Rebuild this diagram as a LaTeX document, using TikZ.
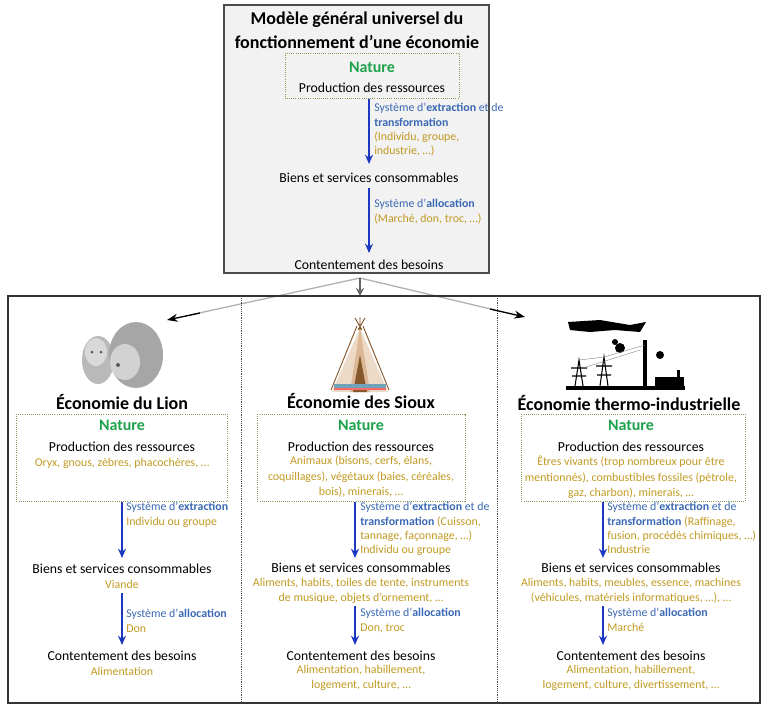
\documentclass[tikz,border=0pt]{standalone}
\usepackage{fontspec}
\setmainfont{Carlito}
\usetikzlibrary{arrows.meta}
\definecolor{bl}{HTML}{3A68B4}
\definecolor{yl}{HTML}{C19A22}
\definecolor{gr}{HTML}{1DA24C}
\definecolor{ab}{HTML}{1C38C0}
\definecolor{dgr}{HTML}{8A9A5B}
\begin{document}
\begin{tikzpicture}[x=0.75pt,y=-0.75pt,
  tx/.style={font=\fontsize{10.3}{12}\selectfont,inner sep=0},
  ttl/.style={font=\fontsize{13.5}{18}\selectfont\bfseries,inner sep=0,align=center},
  nat/.style={font=\fontsize{12}{13}\selectfont\bfseries,text=gr,inner sep=0},
  yt/.style={font=\fontsize{8.9}{11.6}\selectfont,text=yl,inner sep=0,align=center},
  lb/.style={font=\fontsize{8.9}{10.8}\selectfont,text=bl,inner sep=0,align=left,anchor=north west},
  nbox/.style={draw=dgr,densely dotted,line width=0.6pt},
  flow/.style={draw=ab,line width=1.2pt,-{Stealth[length=7pt,width=6pt]}}]
\useasboundingbox (0,0) rectangle (768,708);
% top box
\draw[fill=gray!10,draw=black!70,line width=0.8pt] (224,5) rectangle (489,273);
\node[ttl] (title) at (357,30) {Modèle général universel du\\fonctionnement d’une économie};
\draw[nbox] (285,53) rectangle (459,98);
\node[nat] (n0) at (372,67) {Nature};
\node[tx] (p0) at (372,88) {Production des ressources};
\coordinate (a0) at (369,99);
\node[tx] (b0) at (369,178) {Biens et services consommables};
\node[tx] (c0) at (369,265) {Contentement des besoins};
\draw[flow] (a0) -- (369,164);
\draw[flow] (369,188) -- (369,253);
\node[lb] (l01) at (374,103) {Système d’\textbf{extraction} et de\\\textbf{transformation}\\\textcolor{yl}{(Individu, groupe,}\\\textcolor{yl}{industrie, …)}};
\node[lb] (l02) at (374,199) {Système d’\textbf{allocation}\\\textcolor{yl}{(Marché, don, troc, …)}};
% connectors
\coordinate (o) at (360,278);
\coordinate (t1) at (167,320);
\coordinate (t2) at (360,296);
\coordinate (t3) at (525,317);
\draw[gray!60,line width=1pt] (o) -- (190,315);
\draw[black,line width=1pt,-{Stealth[length=8pt,width=6pt]}] (200,313) -- (t1);
\draw[gray!60,line width=1pt] (o) -- (495,310);
\draw[black,line width=1pt,-{Stealth[length=8pt,width=6pt]}] (490,309) -- (t3);
\draw[gray!80!black,line width=1pt,-{Stealth[length=6pt,width=6pt]}] (o) -- (t2);
% bottom box
\draw[draw=black!80,line width=0.8pt] (8,296) rectangle (760,703);
\draw[black!70,densely dotted] (241,296) -- (241,703);
\draw[black!70,densely dotted] (497,296) -- (497,703);
% lion illustration
\fill[gray!55] (98,360) ellipse (16 and 24);
\fill[gray!30] (96,352) ellipse (11 and 14);
\fill[gray!70] (136,355) ellipse (27 and 33);
\fill[gray!35] (125,362) ellipse (15 and 18);
\fill[gray!70!black] (118,365) circle (2);
\fill[gray!70!black] (92,352) circle (1.5);\fill[gray!70!black] (101,352) circle (1.5);
% teepee
\fill[brown!30!white] (360,328) -- (332,392) -- (388,392) -- cycle;
\fill[brown!55] (360,328) -- (350,392) -- (370,392) -- cycle;
\fill[brown!70!black] (360,355) -- (353,392) -- (367,392) -- cycle;
\fill[cyan!40!gray] (334,384) rectangle (386,388);
\fill[red!60] (334,388) rectangle (386,390);
\draw[brown!70!black,line width=0.7pt] (355,318) -- (362,330) (365,318) -- (358,330) (360,317) -- (360,330);
\draw[brown!70!black,line width=0.7pt] (357,326) -- (331,390) (363,326) -- (389,390);
% factory
\fill[black] (566,386) rectangle (685,390);
\fill[black] (643,340) rectangle (647,386);
\fill[black] (568,322) -- (600,320) -- (630,325) -- (646,322) -- (640,332) -- (615,330) -- (590,332) -- (570,330) -- cycle;
\fill[black] (620,348) circle (5); \fill[black] (615,342) circle (3);\fill[black] (660,355) circle (4);
\fill[black] (677,370) rectangle (680,386); \fill[black] (655,377) rectangle (684,386);
\draw[black,line width=0.8pt] (575,386) -- (579,360) -- (583,386) (571,368) -- (587,368) (572,376) -- (586,376);
\draw[black,line width=0.8pt] (600,386) -- (604,357) -- (608,386) (596,366) -- (612,366) (597,375) -- (611,375);
\draw[gray,line width=0.3pt] (579,360) -- (604,357) -- (645,345) (583,368) -- (640,350);
% ---- column 1
\node[ttl] (h1) at (122,402) {Économie du Lion};
\draw[nbox] (16,414) rectangle (227,501);
\node[nat] (n1) at (122,425) {Nature};
\node[tx] (p1) at (122,447) {Production des ressources};
\node[yt] (y1) at (122,463) {Oryx, gnous, zèbres, phacochères, …};
\coordinate (a1) at (122,502);
\draw[flow] (a1) -- (122,558);
\node[lb] (l11) at (126,502) {Système d’\textbf{extraction}\\\textcolor{yl}{Individu ou groupe}};
\node[tx] (b1) at (122,569) {Biens et services consommables};
\node[yt] (yb1) at (122,584) {Viande};
\draw[flow] (122,593) -- (122,645);
\node[lb] (l12) at (126,609) {Système d’\textbf{allocation}\\\textcolor{yl}{Don}};
\node[tx] (c1) at (122,656) {Contentement des besoins};
\node[yt] (yc1) at (122,671) {Alimentation};
% ---- column 2
\node[ttl] (h2) at (361,401) {Économie des Sioux};
\draw[nbox] (257,414) rectangle (465,501);
\node[nat] (n2) at (361,425) {Nature};
\node[tx] (p2) at (361,447) {Production des ressources};
\node[yt,anchor=north] (y2) at (361,456) {Animaux (bisons, cerfs, élans,\\coquillages), végétaux (baies, céréales,\\bois), minerais, …};
\coordinate (a2) at (355,502);
\draw[flow] (a2) -- (355,558);
\node[lb] (l21) at (360,502) {Système d’\textbf{extraction} et de\\\textbf{transformation} \textcolor{yl}{(Cuisson,}\\\textcolor{yl}{tannage, façonnage, …)}\\\textcolor{yl}{Individu ou groupe}};
\node[tx] (b2) at (361,568) {Biens et services consommables};
\node[yt,anchor=north] (yb2) at (361,578) {Aliments, habits, toiles de tente, instruments\\de musique, objets d’ornement, …};
\draw[flow] (355,606) -- (355,645);
\node[lb] (l22) at (360,608) {Système d’\textbf{allocation}\\\textcolor{yl}{Don, troc}};
\node[tx] (c2) at (361,656) {Contentement des besoins};
\node[yt,anchor=north] (yc2) at (361,665) {Alimentation, habillement,\\logement, culture, …};
% ---- column 3
\node[ttl] (h3) at (629,403) {Économie thermo-industrielle};
\draw[nbox] (521,414) rectangle (745,501);
\node[nat] (n3) at (631,425) {Nature};
\node[tx] (p3) at (631,447) {Production des ressources};
\node[yt,anchor=north] (y3) at (631,456) {Êtres vivants (trop nombreux pour être\\mentionnés), combustibles fossiles (pétrole,\\gaz, charbon), minerais, …};
\coordinate (a3) at (603,502);
\draw[flow] (a3) -- (603,558);
\node[lb] (l31) at (607,502) {Système d’\textbf{extraction} et de\\\textbf{transformation} \textcolor{yl}{(Raffinage,}\\\textcolor{yl}{fusion, procédés chimiques, …)}\\\textcolor{yl}{Industrie}};
\node[tx] (b3) at (631,568) {Biens et services consommables};
\node[yt,anchor=north] (yb3) at (631,578) {Aliments, habits, meubles, essence, machines\\(véhicules, matériels informatiques, …), …};
\draw[flow] (603,606) -- (603,645);
\node[lb] (l32) at (607,608) {Système d’\textbf{allocation}\\\textcolor{yl}{Marché}};
\node[tx] (c3) at (631,656) {Contentement des besoins};
\node[yt,anchor=north] (yc3) at (631,665) {Alimentation, habillement,\\logement, culture, divertissement, …};
\end{tikzpicture}
\end{document}
